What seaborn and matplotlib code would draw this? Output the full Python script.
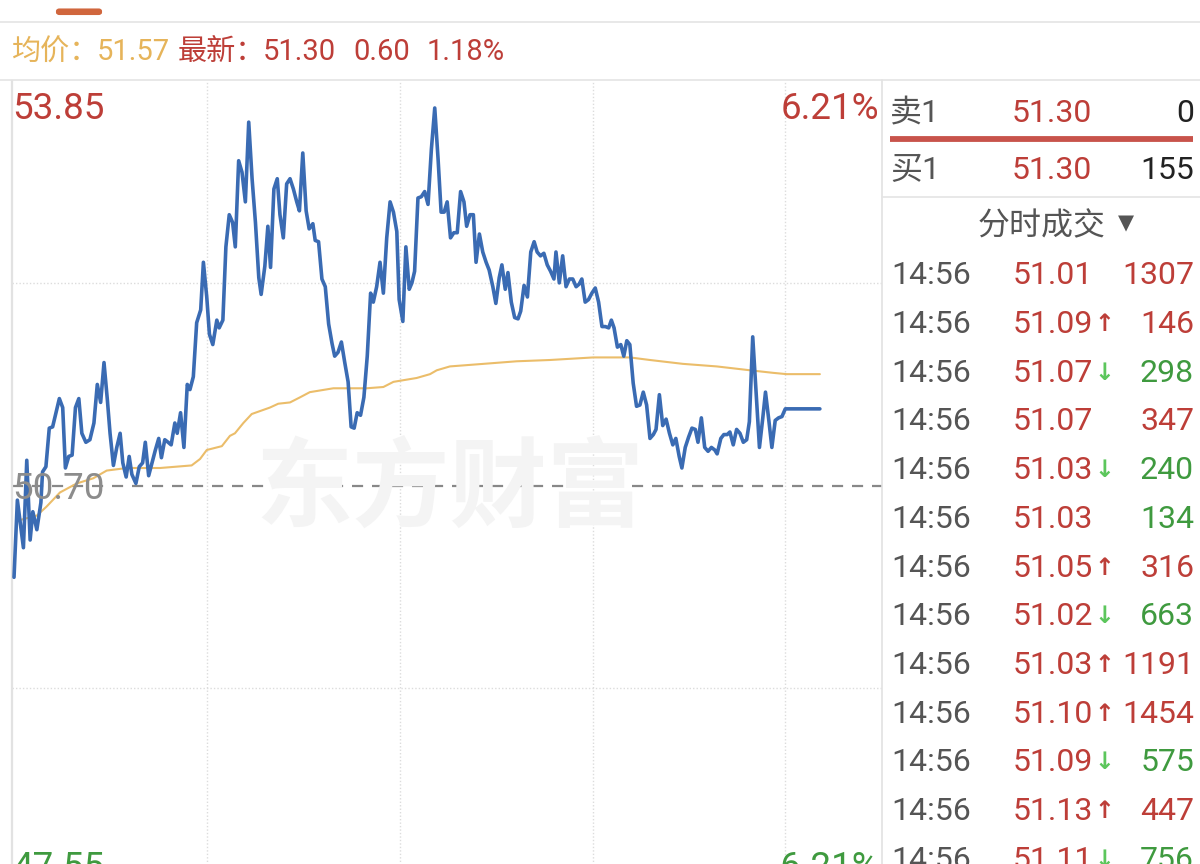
import matplotlib
matplotlib.use("Agg")
import numpy as np
import pandas as pd
import matplotlib.pyplot as plt
import seaborn as sns
from matplotlib.lines import Line2D
from matplotlib.patches import FancyBboxPatch

# ---------------- data (minutes since open, price) ----------------
price_t = [0.0, 1.0, 2.8, 3.8, 4.8, 5.6, 6.8, 8.0, 8.5, 9.5, 10.5, 11.5, 13.5, 14.5, 15.3, 16.3, 17.3,
           18.3, 19.3, 20.2, 21.4, 22.6, 23.8, 24.8, 25.8, 26.8, 27.8, 28.6, 29.6, 30.6, 31.6, 32.4,
           33.4, 34.3, 35.1, 36.3, 37.3, 38.3, 39.1, 40.1, 41.1, 42.1, 43.1, 43.9, 44.9, 45.9, 46.8,
           47.9, 48.6, 49.6, 50.6, 51.6, 52.4, 53.4, 54.4, 55.6, 56.4,
           57.4, 58.2, 59.2, 60.4, 61.1, 62.2, 63.1, 64.1, 65.1, 65.9, 66.9, 67.9, 68.9, 69.9, 70.9,
           71.9, 72.9, 73.6, 74.7, 75.6, 76.4, 77.4, 78.4, 79.2, 80.2, 81.2, 82.2, 83.2, 84.2, 85.0,
           86.0, 87.0, 87.9, 89.0, 89.7, 90.7, 91.7, 92.7, 93.7, 94.7, 95.5, 96.5, 97.5, 98.5, 99.5,
           100.4, 101.3, 102.2, 103.2, 104.2, 105.2, 106.2, 107.0, 108.0, 109.0, 110.0, 111.0, 112.0,
           113.0, 114.0, 114.7, 115.8, 116.7, 117.7,
           118.5, 119.3, 120.3, 121.3, 122.3, 123.3, 124.3, 125.3, 126.3, 127.2, 128.1, 129.0, 130.0,
           131.0, 132.0, 133.0, 134.0, 134.8, 135.8, 136.8, 137.6, 138.6, 139.6, 140.6, 141.5, 142.6,
           143.5, 144.5, 145.3, 146.3, 147.1, 148.1, 149.1, 150.1, 150.9, 151.9, 152.9, 153.9, 154.9,
           155.8, 156.8, 157.8, 158.8, 159.8, 160.8, 161.4, 162.4, 163.4, 164.4, 165.4, 166.4, 167.4,
           168.3, 169.1, 170.1, 171.1, 172.1, 173.1, 174.1, 175.1, 176.1, 177.1,
           177.9, 178.7, 179.7, 180.7, 181.6, 182.5, 183.4, 184.4, 185.4, 186.4, 187.4, 188.4, 189.4,
           190.4, 191.2, 192.2, 193.2, 194.2, 195.2, 196.2, 197.1, 198.1, 198.9, 199.9, 200.9, 201.9,
           202.9, 203.7, 204.7, 205.7, 206.7, 207.7, 208.7, 209.4, 210.5, 211.4, 212.4, 213.2, 214.2,
           215.2, 216.2, 217.2, 218.2, 219.0, 220.0, 221.0, 222.0, 223.0, 223.8, 224.8, 225.7, 226.7,
           227.7, 228.7, 229.7, 230.7, 240.0]
price_v = [49.99, 50.59, 50.22, 50.90, 50.28, 50.50, 50.36, 50.57, 50.81, 50.85, 51.15, 51.16, 51.38,
           51.31, 50.84, 50.93, 50.94, 51.31, 51.38, 51.11, 51.04, 51.06, 51.19, 51.49, 51.35, 51.66,
           51.37, 51.11, 50.86, 51.00, 51.11, 50.88, 50.77, 50.93, 50.79, 50.72, 50.85, 50.88, 51.04,
           50.78, 50.88, 50.98, 51.07, 50.92, 51.06, 51.04, 51.02, 51.19, 51.11, 51.27, 51.00, 51.49,
           51.45, 51.55, 51.97, 52.07, 52.44,
           52.17, 51.88, 51.80, 51.99, 51.93, 51.99, 52.56, 52.81, 52.75, 52.56, 53.23, 53.14, 52.91,
           53.53, 53.09, 52.75, 52.32, 52.19, 52.41, 52.72, 52.40, 53.01, 53.09, 52.81, 52.63, 53.05,
           53.09, 53.01, 52.91, 52.84, 53.29, 52.84, 52.70, 52.74, 52.61, 52.60, 52.31, 52.25, 51.96,
           51.81, 51.71, 51.74, 51.82, 51.66, 51.51, 51.16, 51.15, 51.27, 51.25, 51.39, 51.71, 52.20,
           52.13, 52.25, 52.44, 52.20, 52.63, 52.91, 52.83, 52.68, 52.15, 51.98, 52.56, 52.23,
           52.28, 52.37, 52.94, 52.95, 52.99, 52.89, 53.32, 53.64, 53.24, 52.83, 52.83, 52.91, 52.63,
           52.67, 52.67, 52.99, 52.91, 52.72, 52.81, 52.81, 52.44, 52.66, 52.52, 52.44, 52.38, 52.25,
           52.12, 52.32, 52.42, 52.23, 52.36, 52.13, 52.01, 52.00, 52.06, 52.26, 52.17, 52.52, 52.60,
           52.52, 52.49, 52.51, 52.42, 52.37, 52.31, 52.52, 52.28, 52.49, 52.25, 52.31, 52.31, 52.25,
           52.27, 52.31, 52.13, 52.15, 52.20, 52.24, 52.13, 51.94, 51.94, 51.93,
           51.99, 51.93, 51.78, 51.80, 51.71, 51.83, 51.80, 51.50, 51.32, 51.33, 51.43, 51.33, 51.07,
           51.10, 51.14, 51.41, 51.17, 51.22, 51.11, 51.02, 51.07, 50.93, 50.84, 51.00, 51.08, 51.15,
           51.14, 51.04, 51.23, 51.00, 50.97, 51.00, 50.98, 50.95, 51.07, 51.10, 51.10, 51.12, 51.02,
           51.14, 51.11, 51.04, 51.06, 51.20, 51.86, 51.43, 51.00, 51.23, 51.43, 51.21, 51.00, 51.21,
           51.23, 51.24, 51.30, 51.30, 51.30]

avg_t = [1.0, 6.8, 9.7, 13.7, 18.7, 23.6, 27.6, 33.6, 43.5, 52.9, 55.4, 57.4, 61.9, 64.3, 65.8, 68.3,
         70.8, 76.2, 78.7, 82.2, 85.2, 88.1, 95.1, 105.0, 110.0, 113.0, 119.9, 123.9, 125.9, 129.8,
         139.8, 149.7, 159.6, 172.5, 183.4, 189.4, 199.2, 209.3, 219.2, 226.1, 230.1, 240.0]
avg_v = [50.43, 50.47, 50.54, 50.65, 50.72, 50.76, 50.82, 50.84, 50.84, 50.86, 50.91, 50.98, 51.01,
         51.09, 51.11, 51.19, 51.26, 51.31, 51.34, 51.35, 51.39, 51.43, 51.46, 51.46, 51.47, 51.51,
         51.54, 51.57, 51.60, 51.63, 51.65, 51.67, 51.68, 51.70, 51.70, 51.68, 51.65, 51.63, 51.60,
         51.58, 51.57, 51.57]

prev_close = 50.70
y_top, y_bottom = 53.85, 47.55
pct_top, pct_bottom = "6.21%", "-6.21%"
header_avg, header_last, header_chg, header_pct = "51.57", "51.30", "0.60", "1.18%"
ask = ("卖1", "51.30", "0")
bid = ("买1", "51.30", "155")
trade_title = "分时成交"
trade_times = ["14:56"] * 13
trade_prices = ["51.01", "51.09", "51.07", "51.07", "51.03", "51.03", "51.05", "51.02", "51.03",
                "51.10", "51.09", "51.13", "51.11"]
trade_arrows = ["", "↑", "↓", "", "↓", "", "↑", "↓", "↑", "↑", "↓", "↑", "↓"]
trade_vols = ["1307", "146", "298", "347", "240", "134", "316", "663", "1191", "1454", "575", "447", "756"]
trade_side = ["b", "b", "s", "b", "s", "s", "b", "s", "b", "b", "s", "b", "s"]
watermark = "东方财富"

# ---------------- style ----------------
sns.set_theme(style="white")
plt.rcParams['font.family'] = ['Roboto', 'Noto Sans CJK SC', 'DejaVu Sans']

RED = "#bd3e38"
GREEN = "#3f9a3f"
GREEN_ARROW = "#5cc65c"
GOLD = "#e6b45a"
BLUE = "#3a6bb3"
AVG = "#ebbd6a"
GRAY_TXT = "#555555"
GRID = "#dcdcdc"
CJK = ['Noto Sans CJK SC', 'DejaVu Sans']

W, H = 1200, 864
fig = plt.figure(figsize=(12, 8.64), dpi=100)
fig.patch.set_facecolor("white")

def fx(x):
    return x / W

def fy(y):
    return 1 - y / H

def ftext(x, y, s, size, **kw):
    """Place text so that its visual (cap-height) centre sits at pixel row y."""
    em = size * 100 / 72
    fig.text(fx(x), fy(y + 0.355 * em), s, fontsize=size, va="baseline", **kw)

def fline(x0, y0, x1, y1, **kw):
    fig.add_artist(Line2D([fx(x0), fx(x1)], [fy(y0), fy(y1)], transform=fig.transFigure, **kw))

# ---------------- main chart ----------------
ax = fig.add_axes([fx(12), fy(891), (882 - 12) / W, (891 - 81) / H])
ax.set_facecolor("white")
ax.set_xlim(-0.6, 258.5)
ax.set_ylim(y_bottom, y_top)

# watermark
ftext(450, 485, watermark, 70, fontweight="bold", color="#f4f4f4",
      ha="center", family=CJK, zorder=0)

for xm in [57.5, 115.0, 172.4, 229.6]:
    ax.axvline(xm, color=GRID, lw=1.0, ls=(0, (1, 1.5)), zorder=1)
for yv in [(y_top + prev_close) / 2, (y_bottom + prev_close) / 2]:
    ax.axhline(yv, color=GRID, lw=1.0, ls=(0, (1, 1.5)), zorder=1)
ax.axhline(prev_close, color="#888888", lw=1.6, ls=(0, (5, 4)), zorder=2)

df_p = pd.DataFrame({"t": price_t, "p": price_v})
df_a = pd.DataFrame({"t": avg_t, "p": avg_v})
sns.lineplot(data=df_a, x="t", y="p", ax=ax, color=AVG, lw=1.5, sort=False, zorder=3)
sns.lineplot(data=df_p, x="t", y="p", ax=ax, color=BLUE, lw=2.6, sort=False, zorder=4)

ax.set_xticks([])
ax.set_yticks([])
ax.set_xlabel("")
ax.set_ylabel("")
for s in ["top", "right", "bottom"]:
    ax.spines[s].set_visible(False)
ax.spines["left"].set_color("#e2e2e2")
ax.spines["left"].set_linewidth(1.6)

# axis labels
LF = 26.5
ftext(12, 106, f"{y_top:.2f}", LF, color=RED, ha="left")
ftext(879, 106, pct_top, LF, color=RED, ha="right")
ftext(12, 486, f"{prev_close:.2f}", LF, color="#8c8c8c", ha="left")
ftext(12, 865, f"{y_bottom:.2f}", LF, color=GREEN, ha="left")
ftext(879, 865, pct_bottom, LF, color=GREEN, ha="right")

# ---------------- header ----------------
fig.add_artist(FancyBboxPatch((fx(57), fy(14)), fx(44), 4.5 / H,
                              boxstyle="round,pad=0,rounding_size=0.002",
                              transform=fig.transFigure, facecolor="#d0663d", edgecolor="#d0663d",
                              lw=1.5))
fline(0, 22, 1200, 22, color="#e4e4e4", lw=1.2)
fline(0, 80, 1200, 80, color="#e4e4e4", lw=1.2)
HF = 21
ftext(12, 50, "均价：", HF, color=GOLD, ha="left", family=CJK)
ftext(97, 50, header_avg, HF, color=GOLD, ha="left")
ftext(178, 50, "最新：", HF, color=RED, ha="left", family=CJK)
ftext(263, 50, header_last, HF, color=RED, ha="left")
ftext(353, 50, header_chg, HF, color=RED, ha="left")
ftext(427, 50, header_pct, HF, color=RED, ha="left")

# ---------------- right panel ----------------
fline(882, 80, 882, 864, color="#e2e2e2", lw=1.2)
PF = 23
for (lab, pr, vol), yy in [(ask, 111), (bid, 168)]:
    ftext(890, yy, lab, PF, color=GRAY_TXT, ha="left")
    ftext(1012, yy, pr, PF, color=RED, ha="left")
    ftext(1194, yy, vol, PF, color="#222222", ha="right")
fline(890, 139, 1193, 139, color="#c8534b", lw=4.2, solid_capstyle="butt")
fline(882, 197, 1200, 197, color="#e4e4e4", lw=1.2)
ftext(1042, 224, trade_title, PF, color=GRAY_TXT, ha="center", family=CJK)
ftext(1126, 222, "▼", 15, color=GRAY_TXT, ha="center", family=['DejaVu Sans'])

row_y0, row_dy = 273, 48.7
for i in range(len(trade_times)):
    yy = row_y0 + i * row_dy
    ftext(891, yy, trade_times[i], PF, color=GRAY_TXT, ha="left")
    ftext(1013, yy, trade_prices[i], PF, color=RED, ha="left")
    if trade_arrows[i]:
        ac = RED if trade_arrows[i] == "↑" else GREEN_ARROW
        ftext(1104, yy + 1, trade_arrows[i], 17, color=ac, ha="center", fontweight="bold",
              family=['DejaVu Sans'])
    vc = RED if trade_side[i] == "b" else GREEN
    ftext(1194, yy, trade_vols[i], PF, color=vc, ha="right")

fig.savefig("out.png", dpi=100, facecolor="white")
